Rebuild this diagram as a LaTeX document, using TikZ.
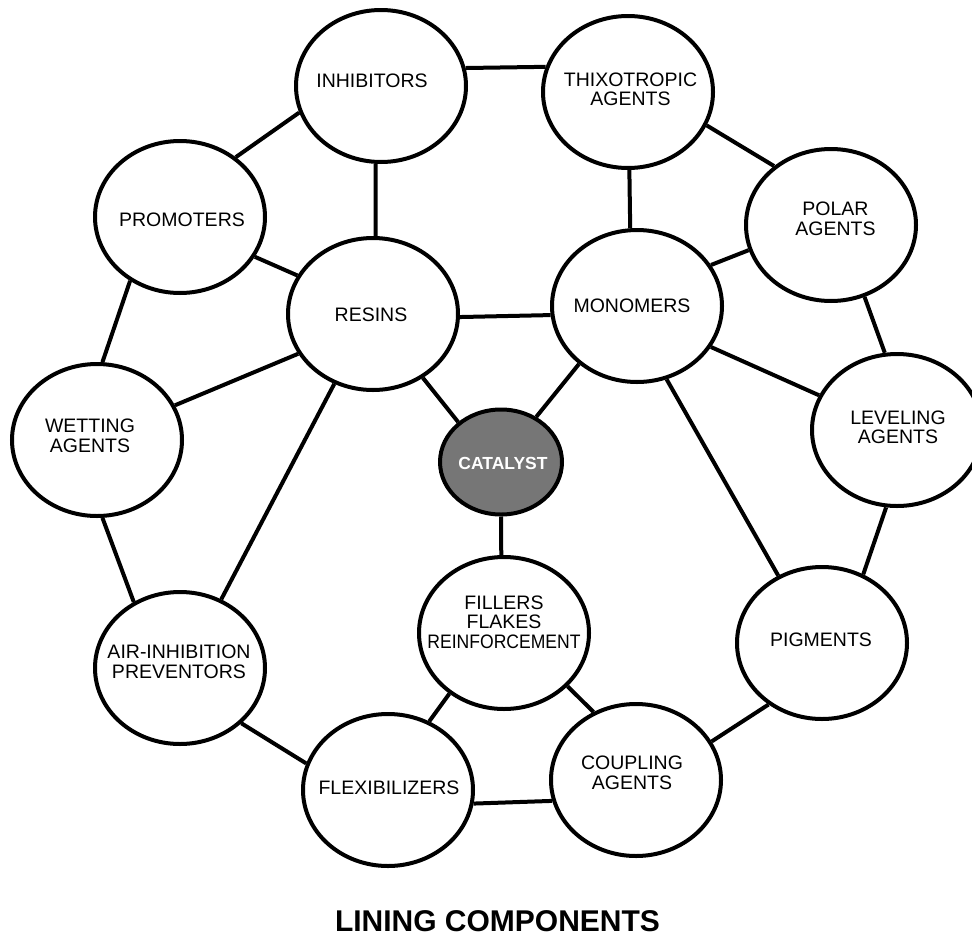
\documentclass[tikz,border=0pt]{standalone}
\usepackage{fontspec}
\setmainfont{Liberation Sans}
\usetikzlibrary{shapes.geometric,backgrounds}
\definecolor{catfill}{RGB}{118,118,118}
\begin{document}
\begin{tikzpicture}[x=1pt,y=-1pt,
  bub/.style={ellipse,draw=black,line width=4pt,fill=white,
    minimum width=170pt,minimum height=152pt,inner sep=0pt},
  lab/.style={align=center,font=\fontsize{19.5}{19.5}\selectfont,inner sep=0pt},
  link/.style={line width=4pt}]
\useasboundingbox (0,0) rectangle (972,937);

% component bubbles
\node[bub,label={[lab,xshift=-9,yshift=5]center:INHIBITORS}] (inh) at (381,86) {};
\node[bub,label={[lab,xshift=2.5,yshift=2.5]center:THIXOTROPIC\\AGENTS}] (thx) at (628,92) {};
\node[bub,label={[lab,xshift=2,yshift=-3]center:PROMOTERS}] (pro) at (180,217) {};
\node[bub,label={[lab,xshift=4.5,yshift=6]center:POLAR\\AGENTS}] (pol) at (831,225) {};
\node[bub,label={[lab,xshift=-2,yshift=-1]center:RESINS}] (res) at (373,314) {};
\node[bub,label={[lab,xshift=-5]center:MONOMERS}] (mon) at (637,306) {};
\node[bub,label={[lab,xshift=-7,yshift=4]center:WETTING\\AGENTS}] (wet) at (97,440) {};
\node[bub,label={[lab,xshift=1,yshift=2.5]center:LEVELING\\AGENTS}] (lev) at (897,430) {};
\node[bub,label={[lab,yshift=11]center:FILLERS\\FLAKES\\\scalebox{0.9}[1]{REINFORCEMENT}}] (fil) at (504,633) {};
\node[bub,label={[lab,xshift=-1,yshift=6]center:AIR-INHIBITION\\PREVENTORS}] (air) at (180,668) {};
\node[bub,label={[lab,xshift=-1,yshift=3]center:PIGMENTS}] (pig) at (822,643) {};
\node[bub,label={[lab,xshift=1,yshift=2]center:FLEXIBILIZERS}] (flx) at (388,790) {};
\node[bub,label={[lab,xshift=-4,yshift=7]center:COUPLING\\AGENTS}] (cou) at (636,780) {};

% central catalyst
\node[bub,fill=catfill,minimum width=122pt,minimum height=105pt,
  label={[lab,text=white,font=\fontsize{17.5}{17.5}\selectfont\bfseries,xshift=2,yshift=-1]center:CATALYST}] (cat) at (501,462) {};

% title
\node[font=\fontsize{30}{30}\selectfont\bfseries,anchor=base,inner sep=0pt] (title) at (497.5,931) {LINING COMPONENTS};

% connectors
\begin{pgfonlayer}{background}
\draw[link] (inh.12.8) -- (thx.163.1);
\draw[link] (inh.266) -- (res.88);
\draw[link] (inh.198.6) -- (pro.47.4);
\draw[link] (pro.332.5) -- (res.153);
\draw[link] (pro.232.9) -- (wet.86.4);
\draw[link] (res.208.9) -- (wet.24.5);
\draw[link] (res.308.8) -- (cat.137);
\draw[link] (res.241.6) -- (air.59.4);
\draw[link] (res.-2) -- (mon.186);
\draw[link] (thx.337.8) -- (pol.134);
\draw[link] (thx.271.5) -- (mon.95);
\draw[link] (mon.29.8) -- (pol.197.8);
\draw[link] (pol.295) -- (lev.99.5);
\draw[link] (mon.331) -- (lev.156.7);
\draw[link] (mon.225.9) -- (cat.52.2);
\draw[link] (mon.292.8) -- (pig.123.5);
\draw[link] (lev.262) -- (pig.59);
\draw[link] (cat.270) -- (fil.92);
\draw[link] (wet.274.4) -- (air.125.6);
\draw[link] (air.318.9) -- (flx.162.4);
\draw[link] (fil.228.8) -- (flx.59);
\draw[link] (fil.320.8) -- (cou.122.7);
\draw[link] (flx.351.3) -- (cou.194.8);
\draw[link] (cou.27.7) -- (pig.229.3);
\end{pgfonlayer}
\end{tikzpicture}
\end{document}
